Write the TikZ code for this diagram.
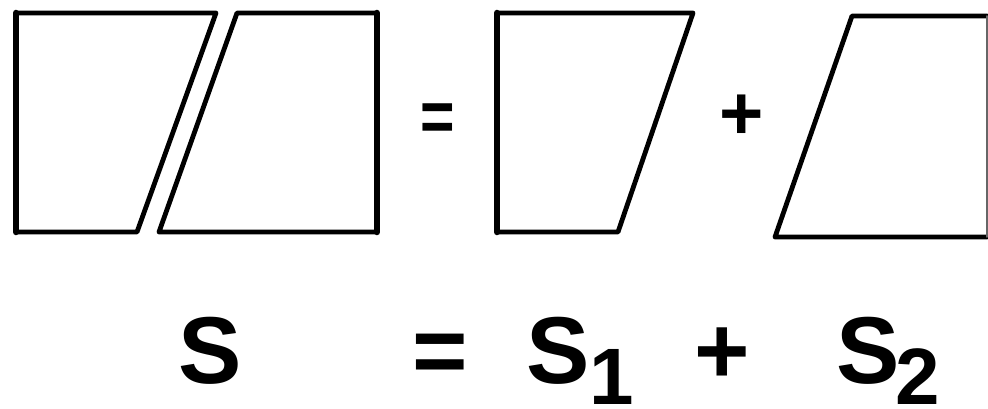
\documentclass[tikz,border=0pt]{standalone}
\usepackage{fontspec}
\setmainfont{Liberation Sans}
\begin{document}
\begin{tikzpicture}[x=1pt,y=-1pt,line cap=round,line join=round,
  edge/.style={line width=4.8pt},
  vert/.style={line width=6.5pt},
  thinedge/.style={line width=1.5pt,black!60},
  big/.style={font=\fontsize{95}{95}\selectfont\bfseries,inner sep=0pt},
  subs/.style={font=\fontsize{80}{80}\selectfont\bfseries,inner sep=0pt}]
\useasboundingbox[fill=white] (0,0) rectangle (988,409);
% whole figure split in two pieces
\coordinate (a1) at (16,13);  \coordinate (a2) at (216,13);
\coordinate (a3) at (137,232); \coordinate (a4) at (16,232);
\coordinate (b1) at (237,13); \coordinate (b2) at (377,13);
\coordinate (b3) at (377,232); \coordinate (b4) at (159,232);
\draw[edge] (a1) -- (a2) -- (a3) -- (a4) -- cycle;
\draw[vert] (a1) -- (a4);
\draw[edge] (b1) -- (b2) -- (b3) -- (b4) -- cycle;
\draw[vert] (b2) -- (b3);
% piece 1
\coordinate (c1) at (497,13); \coordinate (c2) at (693,13);
\coordinate (c3) at (618,232); \coordinate (c4) at (497,232);
\draw[edge] (c1) -- (c2) -- (c3) -- (c4) -- cycle;
\draw[vert] (c1) -- (c4);
% piece 2
\coordinate (d1) at (852,16); \coordinate (d2) at (987,16);
\coordinate (d3) at (987,237); \coordinate (d4) at (775,237);
\draw[edge] (d2) -- (d1) -- (d4) -- (d3);
\draw[thinedge] (d2) -- (d3);
% small operators
\node[font=\fontsize{59}{59}\selectfont\bfseries,inner sep=0pt,anchor=base] (eqs) at (437.5,142) {\scalebox{1}[1.23]{=}};
\node[font=\fontsize{76}{76}\selectfont\bfseries,inner sep=0pt,anchor=base] (pls) at (742,140) {+};
% formula
\node[big,anchor=base west] (S) at (178.5,383) {S};
\node[big,anchor=base] (eqb) at (440,383) {=};
\node[big,anchor=base west] (S1) at (526.5,383) {S};
\node[subs,anchor=base west] (one) at (589,404) {1};
\node[big,anchor=base] (plb) at (722,383) {+};
\node[big,anchor=base west] (S2) at (836.5,383) {S};
\node[subs,anchor=base west] (two) at (895.6,404) {2};
\end{tikzpicture}
\end{document}
